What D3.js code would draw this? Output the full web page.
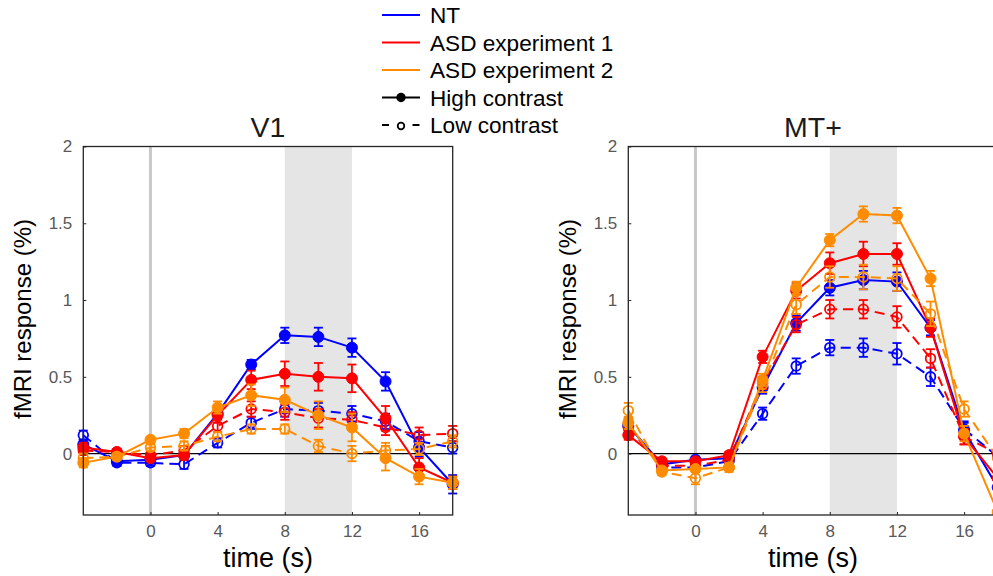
<!DOCTYPE html>
<html><head><meta charset="utf-8">
<script src="https://cdn.jsdelivr.net/npm/d3@7"></script>
<style>body{margin:0;background:#fff;} svg{display:block;font-family:"Liberation Sans",Arial,Helvetica,sans-serif;}</style>
</head><body>
<svg id="chart" width="993" height="576"></svg>
<script>
const time = [-4,-2,0,2,4,6,8,10,12,14,16,18];
const xTicks = [0,4,8,12,16];
const yTicks = [0,0.5,1,1.5,2];
const yTickLabels = ["0","0.5","1","1.5","2"];
const panelTitles = ["V1","MT+"];
const groupNames = ["NT","ASD experiment 1","ASD experiment 2"];
const groupColors = ["#0000ff","#ff0000","#ff8c00"];
const contrastNames = ["High contrast","Low contrast"];
const stimWindow = [8,12];

// V1
const v1_NT_high = [0.06,-0.05,-0.04,-0.01,0.26,0.58,0.77,0.76,0.69,0.47,0.04,-0.20];
const v1_NT_high_err = [0.03,0.02,0.02,0.02,0.03,0.03,0.05,0.06,0.06,0.06,0.06,0.06];
const v1_NT_low = [0.12,-0.06,-0.06,-0.07,0.07,0.20,0.29,0.28,0.26,0.21,0.08,0.04];
const v1_NT_low_err = [0.03,0.02,0.02,0.03,0.03,0.04,0.05,0.05,0.05,0.05,0.06,0.04];
const v1_ASD1_high = [0.04,0.01,-0.03,-0.01,0.25,0.48,0.52,0.50,0.49,0.23,-0.09,-0.19];
const v1_ASD1_high_err = [0.03,0.02,0.02,0.03,0.05,0.06,0.08,0.09,0.09,0.08,0.06,0.04];
const v1_ASD1_low = [0.02,0.01,-0.01,0.02,0.18,0.29,0.27,0.23,0.22,0.17,0.12,0.13];
const v1_ASD1_low_err = [0.03,0.02,0.02,0.03,0.04,0.05,0.05,0.06,0.05,0.05,0.05,0.05];
const v1_ASD2_high = [-0.06,-0.02,0.09,0.13,0.30,0.38,0.35,0.25,0.17,-0.03,-0.15,-0.19];
const v1_ASD2_high_err = [0.03,0.02,0.02,0.03,0.04,0.07,0.08,0.09,0.09,0.08,0.05,0.04];
const v1_ASD2_low = [-0.03,-0.02,0.04,0.05,0.11,0.16,0.16,0.05,0.0,0.02,0.03,0.08];
const v1_ASD2_low_err = [0.03,0.02,0.02,0.03,0.03,0.03,0.03,0.04,0.05,0.05,0.04,0.04];

// MT+
const mt_NT_high = [0.18,-0.07,-0.04,-0.03,0.43,0.85,1.08,1.13,1.12,0.82,0.15,-0.22];
const mt_NT_high_err = [0.04,0.02,0.02,0.02,0.04,0.05,0.05,0.06,0.06,0.05,0.05,0.05];
const mt_NT_low = [0.19,-0.09,-0.09,-0.05,0.26,0.57,0.69,0.69,0.65,0.50,0.16,-0.02];
const mt_NT_low_err = [0.04,0.02,0.02,0.02,0.04,0.05,0.05,0.06,0.07,0.06,0.05,0.05];
const mt_ASD1_high = [0.12,-0.05,-0.05,-0.01,0.63,1.06,1.24,1.30,1.30,0.82,0.11,-0.16];
const mt_ASD1_high_err = [0.03,0.02,0.02,0.02,0.04,0.05,0.07,0.08,0.07,0.06,0.05,0.05];
const mt_ASD1_low = [0.17,-0.08,-0.08,-0.04,0.46,0.84,0.94,0.94,0.89,0.62,0.11,0.0];
const mt_ASD1_low_err = [0.04,0.02,0.02,0.02,0.04,0.05,0.06,0.06,0.07,0.06,0.05,0.05];
const mt_ASD2_high = [0.20,-0.11,-0.10,-0.09,0.48,1.08,1.39,1.56,1.55,1.14,0.13,-0.38];
const mt_ASD2_high_err = [0.04,0.02,0.02,0.02,0.04,0.04,0.04,0.05,0.05,0.05,0.05,0.05];
const mt_ASD2_low = [0.28,-0.12,-0.16,-0.09,0.45,0.97,1.15,1.15,1.14,0.91,0.29,-0.03];
const mt_ASD2_low_err = [0.05,0.02,0.04,0.03,0.05,0.06,0.07,0.08,0.08,0.08,0.05,0.05];

const panels = [
  {title: panelTitles[0], left: 83.3, series: [
    {g:0,c:0,v:v1_NT_high,e:v1_NT_high_err},{g:0,c:1,v:v1_NT_low,e:v1_NT_low_err},
    {g:1,c:0,v:v1_ASD1_high,e:v1_ASD1_high_err},{g:1,c:1,v:v1_ASD1_low,e:v1_ASD1_low_err},
    {g:2,c:0,v:v1_ASD2_high,e:v1_ASD2_high_err},{g:2,c:1,v:v1_ASD2_low,e:v1_ASD2_low_err}]},
  {title: panelTitles[1], left: 628.3, series: [
    {g:0,c:0,v:mt_NT_high,e:mt_NT_high_err},{g:0,c:1,v:mt_NT_low,e:mt_NT_low_err},
    {g:1,c:0,v:mt_ASD1_high,e:mt_ASD1_high_err},{g:1,c:1,v:mt_ASD1_low,e:mt_ASD1_low_err},
    {g:2,c:0,v:mt_ASD2_high,e:mt_ASD2_high_err},{g:2,c:1,v:mt_ASD2_low,e:mt_ASD2_low_err}]}
];

const svg = d3.select("#chart");
const plotW = 369.4, plotTop = 146.5, plotBottom = 515;
const axisColor = "#262626", tickColor = "#595959";

panels.forEach(p => {
  const x = d3.scaleLinear().domain([-4,18]).range([p.left, p.left + plotW]);
  const y = d3.scaleLinear().domain([-0.4,2]).range([plotBottom, plotTop]);
  const g = svg.append("g");
  g.append("rect").attr("x", x(stimWindow[0])).attr("y", plotTop)
    .attr("width", x(stimWindow[1]) - x(stimWindow[0])).attr("height", plotBottom - plotTop)
    .attr("fill", "#e5e5e5");
  g.append("line").attr("x1", x(0)).attr("x2", x(0)).attr("y1", plotTop).attr("y2", plotBottom)
    .attr("stroke", "#c8c8c8").attr("stroke-width", 3);
  g.append("line").attr("x1", x(-4)).attr("x2", x(18)).attr("y1", y(0)).attr("y2", y(0))
    .attr("stroke", "#000").attr("stroke-width", 1.2);

  p.series.forEach(s => {
    const col = groupColors[s.g];
    const pts = time.map((t,i) => ({t, v:s.v[i], e:s.e[i]}));
    const line = d3.line().x(d => x(d.t)).y(d => y(d.v));
    g.append("path").datum(pts).attr("d", line).attr("fill","none")
      .attr("stroke", col).attr("stroke-width", 2)
      .attr("stroke-dasharray", s.c === 1 ? "10,6" : null);
    const eb = g.append("g").attr("stroke", col).attr("stroke-width", 1.8).attr("fill","none");
    pts.forEach(d => {
      eb.append("line").attr("x1", x(d.t)).attr("x2", x(d.t)).attr("y1", y(d.v - d.e)).attr("y2", y(d.v + d.e));
      [d.v - d.e, d.v + d.e].forEach(yy => {
        eb.append("line").attr("x1", x(d.t) - 4.5).attr("x2", x(d.t) + 4.5).attr("y1", y(yy)).attr("y2", y(yy));
      });
    });
    g.append("g").selectAll("circle").data(pts).join("circle")
      .attr("cx", d => x(d.t)).attr("cy", d => y(d.v))
      .attr("r", s.c === 0 ? 5.5 : 4.8)
      .attr("fill", s.c === 0 ? col : "none")
      .attr("stroke", col).attr("stroke-width", s.c === 0 ? 1 : 1.8);
  });

  g.append("rect").attr("x", p.left).attr("y", plotTop).attr("width", plotW).attr("height", plotBottom - plotTop)
    .attr("fill","none").attr("stroke", axisColor).attr("stroke-width", 1.3);
  const xa = d3.axisBottom(x).tickValues(xTicks).tickSizeInner(-3).tickSizeOuter(0).tickPadding(10);
  const xg = g.append("g").attr("transform", `translate(0,${plotBottom})`).call(xa);
  xg.select(".domain").remove();
  xg.selectAll("line").attr("stroke", axisColor);
  xg.selectAll("text").attr("font-size", 17).attr("fill", tickColor).attr("font-family", "Liberation Sans, Arial, sans-serif");
  const ya = d3.axisLeft(y).tickValues(yTicks).tickFormat((d,i) => yTickLabels[i]).tickSizeInner(-3).tickSizeOuter(0).tickPadding(11);
  const yg = g.append("g").attr("transform", `translate(${p.left},0)`).call(ya);
  yg.select(".domain").remove();
  yg.selectAll("line").attr("stroke", axisColor);
  yg.selectAll("text").attr("font-size", 17).attr("fill", tickColor).attr("font-family", "Liberation Sans, Arial, sans-serif");

  const cx = p.left + plotW/2;
  svg.append("text").attr("x", cx).attr("y", 137).attr("text-anchor","middle")
    .attr("font-size", 28.5).attr("fill", "#1a1a1a").text(p.title);
  svg.append("text").attr("x", cx).attr("y", 567).attr("text-anchor","middle")
    .attr("font-size", 27).attr("fill", "#000").text("time (s)");
  svg.append("text").attr("transform", `translate(${p.left - 52},319) rotate(-90)`)
    .attr("text-anchor","middle").attr("font-size", 24).attr("fill","#000").text("fMRI response (%)");
});

const leg = svg.append("g");
const lx1 = 382, lx2 = 420, tx = 430, rowY = [15, 42.5, 70, 97.5, 125];
const legFont = 22.6;
groupNames.forEach((n,i) => {
  leg.append("line").attr("x1", lx1).attr("x2", lx2).attr("y1", rowY[i]).attr("y2", rowY[i])
    .attr("stroke", groupColors[i]).attr("stroke-width", 2);
  leg.append("text").attr("x", tx).attr("y", rowY[i] + 8).attr("font-size", legFont).text(n);
});
leg.append("line").attr("x1", lx1).attr("x2", lx2).attr("y1", rowY[3]).attr("y2", rowY[3])
  .attr("stroke", "#000").attr("stroke-width", 2);
leg.append("circle").attr("cx", 401).attr("cy", rowY[3]).attr("r", 4.7).attr("fill", "#000");
leg.append("text").attr("x", tx).attr("y", rowY[3] + 8).attr("font-size", legFont).text(contrastNames[0]);
leg.append("line").attr("x1", lx1).attr("x2", 389).attr("y1", rowY[4]).attr("y2", rowY[4])
  .attr("stroke", "#000").attr("stroke-width", 2);
leg.append("line").attr("x1", 412.5).attr("x2", 419.5).attr("y1", rowY[4]).attr("y2", rowY[4])
  .attr("stroke", "#000").attr("stroke-width", 2);
leg.append("circle").attr("cx", 401).attr("cy", rowY[4] + 1).attr("r", 3.3).attr("fill", "none")
  .attr("stroke", "#000").attr("stroke-width", 1.8);
leg.append("text").attr("x", tx).attr("y", rowY[4] + 8).attr("font-size", legFont).text(contrastNames[1]);
</script>
</body></html>
